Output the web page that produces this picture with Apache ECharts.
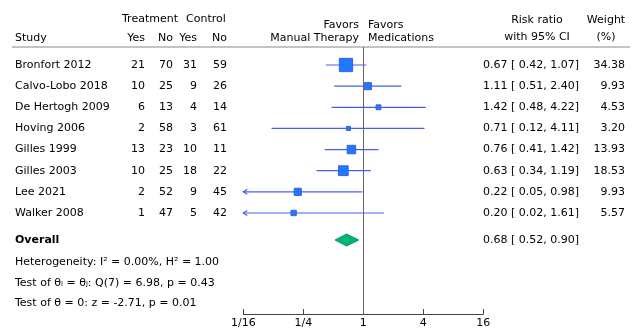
<!DOCTYPE html>
<html><head><meta charset="utf-8">
<script src="https://cdn.jsdelivr.net/npm/echarts@6/dist/echarts.min.js"></script>
<style>html,body{margin:0;padding:0;background:#fff}#c{width:632px;height:331px}</style>
</head><body><div id="c"></div>
<script>
// ---- data ----
const studies = ['Bronfort 2012','Calvo-Lobo 2018','De Hertogh 2009','Hoving 2006','Gilles 1999','Gilles 2003','Lee 2021','Walker 2008'];
const treatYes = [21,10,6,2,13,10,2,1];
const treatNo  = [70,25,13,58,23,25,52,47];
const ctrlYes  = [31,9,4,3,10,18,9,5];
const ctrlNo   = [59,26,14,61,11,22,45,42];
const rr       = [0.67,1.11,1.42,0.71,0.76,0.63,0.22,0.20];
const ciLow    = [0.42,0.51,0.48,0.12,0.41,0.34,0.05,0.02];
const ciHigh   = [1.07,2.40,4.22,4.11,1.42,1.19,0.98,1.61];
const weights  = [34.38,9.93,4.53,3.20,13.93,18.53,9.93,5.57];
const overall  = [0.68,0.52,0.90];
const tickVals = [1/16,1/4,1,4,16];
const tickLabels = ['1/16','1/4','1','4','16'];
const footnotes = ['Heterogeneity: I\u00B2 = 0.00%, H\u00B2 = 1.00','Test of \u03B8\u1D62 = \u03B8\u2C7C: Q(7) = 6.98, p = 0.43','Test of \u03B8 = 0: z = -2.71, p = 0.01'];

// ---- layout ----
const FONT = 'DejaVu Sans';
const FS = 11;
const GRID_TOP = 47, GRID_BOTTOM_PX = 314;
const ROW_PX = 21.14, FIRST_ROW_PX = 65;
const yMin = -(FIRST_ROW_PX - GRID_TOP) / ROW_PX;
const yMax = yMin + (GRID_BOTTOM_PX - GRID_TOP) / ROW_PX;
const OVERALL_ROW = (240 - FIRST_ROW_PX) / ROW_PX;
const fmt = v => v.toFixed(2);
const ciText = (e,l,h) => fmt(e) + ' [ ' + fmt(l) + ', ' + fmt(h) + ']';

const studyData = studies.map((s,i)=>[rr[i],ciLow[i],ciHigh[i],weights[i],i]);
const tableData = studies.map((s,i)=>[1,i]);

function txt(x,y,text,align,weight){
  return {type:'text',style:{x:x,y:y,text:text,fill:'#000',font:(weight?weight+' ':'')+FS+'px "'+FONT+'"',align:align||'left',verticalAlign:'middle'}};
}

function renderStudy(params, api){
  const i = api.value(4);
  const y = api.coord([1,i])[1];
  const xMin = api.coord([tickVals[0],i])[0];
  const xMax = api.coord([tickVals[tickVals.length-1],i])[0];
  const lv = api.value(1), hv = api.value(2);
  const xl = lv < tickVals[0] ? xMin : api.coord([lv,i])[0];
  const xh = hv > tickVals[tickVals.length-1] ? xMax : api.coord([hv,i])[0];
  const xc = api.coord([api.value(0),i])[0];
  const s = 2.27*Math.sqrt(api.value(3));
  const lineStyle = {stroke:'#4a5cf0',lineWidth:1.2};
  const ch = [{type:'line',shape:{x1:xl,y1:y,x2:xh,y2:y},style:lineStyle}];
  if (lv < tickVals[0]) ch.push({type:'polyline',shape:{points:[[xMin+4,y-2.5],[xMin,y],[xMin+4,y+2.5]]},style:{stroke:'#4a5cf0',lineWidth:1.2,fill:null}});
  if (hv > tickVals[tickVals.length-1]) ch.push({type:'polyline',shape:{points:[[xMax-4,y-2.5],[xMax,y],[xMax-4,y+2.5]]},style:{stroke:'#4a5cf0',lineWidth:1.2,fill:null}});
  ch.push({type:'rect',shape:{x:xc-s/2,y:y-s/2,width:s,height:s},style:{fill:'#1f78ff',stroke:'#3b5fe8',lineWidth:1}});
  return {type:'group',children:ch};
}

function renderTable(params, api){
  const i = api.value(1);
  const y = api.coord([1,i])[1];
  return {type:'group',children:[
    txt(15,y,studies[i],'left'),
    txt(145,y,String(treatYes[i]),'right'),
    txt(173,y,String(treatNo[i]),'right'),
    txt(197,y,String(ctrlYes[i]),'right'),
    txt(227,y,String(ctrlNo[i]),'right'),
    txt(483,y,ciText(rr[i],ciLow[i],ciHigh[i]),'left'),
    txt(625,y,fmt(weights[i]),'right')
  ]};
}

function renderOverall(params, api){
  const y = api.coord([1,OVERALL_ROW])[1];
  const xc = api.coord([api.value(0),OVERALL_ROW])[0];
  const xl = api.coord([api.value(1),OVERALL_ROW])[0];
  const xh = api.coord([api.value(2),OVERALL_ROW])[0];
  return {type:'group',children:[
    {type:'polygon',shape:{points:[[xl,y],[xc,y-6],[xh,y],[xc,y+6]]},style:{fill:'#00b37a',stroke:'#00a06c',lineWidth:1}},
    txt(15,y,'Overall','left','bold'),
    txt(483,y,ciText(overall[0],overall[1],overall[2]),'left')
  ]};
}

const graphics = [
  {type:'line',shape:{x1:12,y1:GRID_TOP,x2:630,y2:GRID_TOP},style:{stroke:'#888',lineWidth:1}},
  txt(15,38,'Study'),
  txt(150,19,'Treatment','center'),
  txt(206,19,'Control','center'),
  txt(145,38,'Yes','right'), txt(173,38,'No','right'),
  txt(197,38,'Yes','right'), txt(227,38,'No','right'),
  txt(359,25,'Favors','right'), txt(359,38,'Manual Therapy','right'),
  txt(368,25,'Favors','left'), txt(368,38,'Medications','left'),
  txt(537,20,'Risk ratio','center'), txt(537,37,'with 95% CI','center'),
  txt(606,20,'Weight','center'), txt(606,37,'(%)','center'),
  txt(15,262,footnotes[0]), txt(15,283,footnotes[1]), txt(15,303,footnotes[2])
];

const chart = echarts.init(document.getElementById('c'),null,{renderer:'canvas'});
chart.setOption({
  animation:false,
  backgroundColor:'#fff',
  grid:{left:243.3,right:632-483.3,top:GRID_TOP,bottom:331-GRID_BOTTOM_PX,containLabel:false},
  xAxis:{type:'log',logBase:4,min:tickVals[0],max:tickVals[tickVals.length-1],position:'bottom',
    axisLine:{show:true,onZero:false,lineStyle:{color:'#444',width:1}},
    axisTick:{show:true,inside:true,length:5,lineStyle:{color:'#444'}},
    axisLabel:{color:'#000',fontFamily:FONT,fontSize:FS,margin:4,
      formatter:v=>{let b=0,d=1e9;tickVals.forEach((t,k)=>{const dd=Math.abs(Math.log(t)-Math.log(v));if(dd<d){d=dd;b=k;}});return tickLabels[b];}},
    splitLine:{show:false}},
  yAxis:{type:'value',inverse:true,min:yMin,max:yMax,show:false},
  graphic:graphics,
  series:[
    {type:'custom',name:'studies',clip:false,renderItem:renderStudy,data:studyData,
      encode:{x:[0,1,2],y:4},
      markLine:{silent:true,symbol:'none',label:{show:false},lineStyle:{color:'#666',width:1,type:'solid'},data:[{xAxis:1}]}},
    {type:'custom',name:'overall',clip:false,renderItem:renderOverall,data:[overall],encode:{x:[0,1,2]}},
    {type:'custom',name:'table',clip:false,renderItem:renderTable,data:tableData,encode:{x:0,y:1}}
  ]
});
</script></body></html>
